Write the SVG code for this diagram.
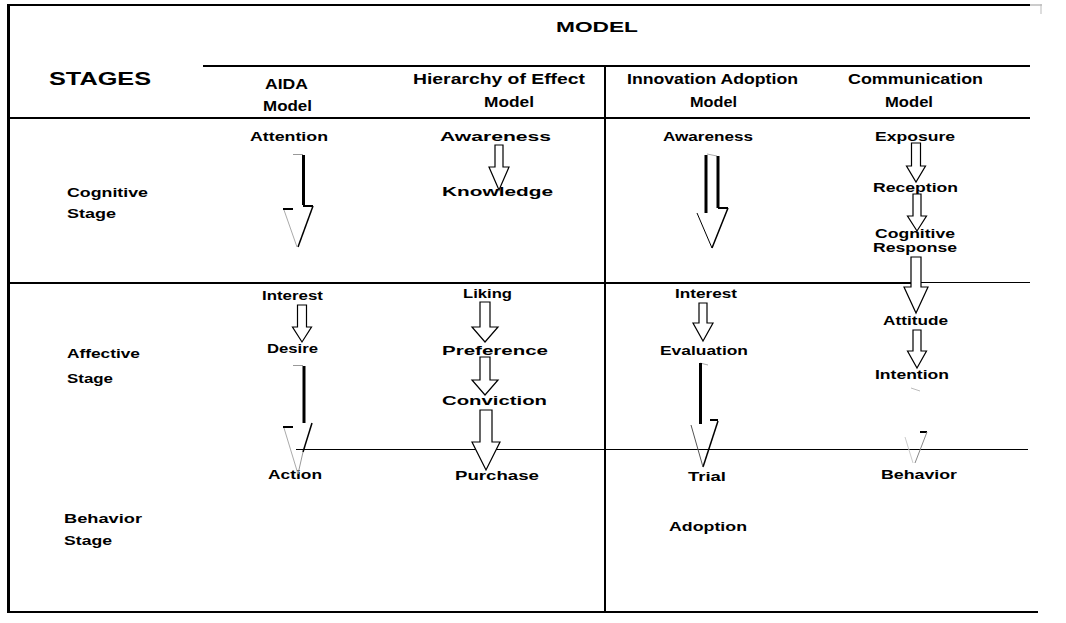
<svg xmlns="http://www.w3.org/2000/svg" width="1066" height="623" viewBox="0 0 1066 623">
<style>
text{font-family:"Liberation Sans",Arial,sans-serif;font-weight:bold;fill:#000}
.t{font-size:13.5px}
.h{font-size:14px}
.grid{stroke:#000;fill:none}
.ha{fill:#fff;stroke:#000;stroke-width:1.2;stroke-linejoin:miter}
.bk{stroke:#000;fill:none}
.gr{stroke:#999;fill:none;stroke-width:1}
</style>
<rect width="1066" height="623" fill="#fff"/>
<g id="table">
  <line class="grid" x1="8" y1="5" x2="1030" y2="5" stroke-width="2"/>
  <line x1="1030" y1="5" x2="1042" y2="5" stroke="#999" stroke-width="1"/>
  <line x1="1041" y1="4" x2="1041" y2="14" stroke="#bbb" stroke-width="1"/>
  <line class="grid" x1="8.5" y1="4" x2="8.5" y2="613" stroke-width="3"/>
  <line class="grid" x1="203" y1="66" x2="1030" y2="66" stroke-width="2"/>
  <line class="grid" x1="8" y1="118" x2="1030" y2="118" stroke-width="2"/>
  <line class="grid" x1="605" y1="66" x2="605" y2="612" stroke-width="2"/>
  <line class="grid" x1="8" y1="283" x2="912" y2="283" stroke-width="2"/>
  <line class="grid" x1="918" y1="282.5" x2="1030" y2="282.5" stroke-width="1" stroke="#333"/>
  <line class="grid" x1="296" y1="449.5" x2="1028" y2="449.5" stroke-width="1" stroke="#333"/>
  <line class="grid" x1="8" y1="612" x2="1038" y2="612" stroke-width="2"/>
</g>
<g id="headers">
  <text id="model" x="556" y="32" style="font-size:15px" textLength="82" lengthAdjust="spacingAndGlyphs">MODEL</text>
  <text id="stages" x="49" y="85" style="font-size:18px" textLength="102" lengthAdjust="spacingAndGlyphs">STAGES</text>
  <text class="h" x="265" y="89" textLength="43" lengthAdjust="spacingAndGlyphs">AIDA</text>
  <text class="h" x="263" y="111" textLength="49" lengthAdjust="spacingAndGlyphs">Model</text>
  <text class="h" x="413" y="84" textLength="172" lengthAdjust="spacingAndGlyphs">Hierarchy of Effect</text>
  <text class="h" x="484" y="107" textLength="50" lengthAdjust="spacingAndGlyphs">Model</text>
  <text class="h" x="627" y="84" textLength="171" lengthAdjust="spacingAndGlyphs">Innovation Adoption</text>
  <text class="h" x="690" y="107" textLength="47" lengthAdjust="spacingAndGlyphs">Model</text>
  <text class="h" x="848" y="84" textLength="135" lengthAdjust="spacingAndGlyphs">Communication</text>
  <text class="h" x="885" y="107" textLength="48" lengthAdjust="spacingAndGlyphs">Model</text>
</g>
<g id="stage-labels">
  <text class="t" x="67" y="197" textLength="81" lengthAdjust="spacingAndGlyphs">Cognitive</text>
  <text class="t" x="67" y="218" textLength="49" lengthAdjust="spacingAndGlyphs">Stage</text>
  <text class="t" x="67" y="358" textLength="73" lengthAdjust="spacingAndGlyphs">Affective</text>
  <text class="t" x="67" y="383" textLength="46" lengthAdjust="spacingAndGlyphs">Stage</text>
  <text class="t" x="64" y="523" textLength="78" lengthAdjust="spacingAndGlyphs">Behavior</text>
  <text class="t" x="64" y="545" textLength="48" lengthAdjust="spacingAndGlyphs">Stage</text>
</g>
<g id="aida">
  <text id="attention" class="t" x="250" y="141" textLength="78" lengthAdjust="spacingAndGlyphs">Attention</text>
  <text id="interest-a" class="t" x="262" y="300" textLength="61" lengthAdjust="spacingAndGlyphs">Interest</text>
  <text id="desire" class="t" x="267" y="353" textLength="51" lengthAdjust="spacingAndGlyphs">Desire</text>
  <text id="action" class="t" x="268" y="479" textLength="54" lengthAdjust="spacingAndGlyphs">Action</text>
</g>
<g id="hierarchy">
  <text id="awareness-h" class="t" x="440" y="141" textLength="111" lengthAdjust="spacingAndGlyphs">Awareness</text>
  <text id="knowledge" class="t" x="442" y="196" textLength="111" lengthAdjust="spacingAndGlyphs">Knowledge</text>
  <text id="liking" class="t" x="463" y="298" textLength="49" lengthAdjust="spacingAndGlyphs">Liking</text>
  <text id="preference" class="t" x="442" y="355" textLength="106" lengthAdjust="spacingAndGlyphs">Preference</text>
  <text id="conviction" class="t" x="442" y="405" textLength="105" lengthAdjust="spacingAndGlyphs">Conviction</text>
  <text id="purchase" class="t" x="455" y="480" textLength="84" lengthAdjust="spacingAndGlyphs">Purchase</text>
</g>
<g id="innovation">
  <text id="awareness-i" class="t" x="663" y="141" textLength="90" lengthAdjust="spacingAndGlyphs">Awareness</text>
  <text id="interest-i" class="t" x="675" y="298" textLength="62" lengthAdjust="spacingAndGlyphs">Interest</text>
  <text id="evaluation" class="t" x="660" y="355" textLength="88" lengthAdjust="spacingAndGlyphs">Evaluation</text>
  <text id="trial" class="t" x="688" y="481" textLength="38" lengthAdjust="spacingAndGlyphs">Trial</text>
  <text id="adoption" class="t" x="669" y="531" textLength="78" lengthAdjust="spacingAndGlyphs">Adoption</text>
</g>
<g id="communication">
  <text id="exposure" class="t" x="875" y="141" textLength="80" lengthAdjust="spacingAndGlyphs">Exposure</text>
  <text id="reception" class="t" x="873" y="192" textLength="85" lengthAdjust="spacingAndGlyphs">Reception</text>
  <text id="cognitive" class="t" x="875" y="238" textLength="80" lengthAdjust="spacingAndGlyphs">Cognitive</text>
  <text id="response" class="t" x="873" y="252" textLength="84" lengthAdjust="spacingAndGlyphs">Response</text>
  <text id="attitude" class="t" x="883" y="325" textLength="65" lengthAdjust="spacingAndGlyphs">Attitude</text>
  <text id="intention" class="t" x="875" y="379" textLength="74" lengthAdjust="spacingAndGlyphs">Intention</text>
  <text id="behavior" class="t" x="881" y="479" textLength="76" lengthAdjust="spacingAndGlyphs">Behavior</text>
</g>
<g id="connectors">
  <path class="ha" d="M495,145 L503,145 L503,167 L509,167 L499,190 L489,167 L495,167 Z"/>
  <path class="ha" d="M297.5,305 L306.5,305 L306.5,327 L311.5,327 L302,342 L292.5,327 L297.5,327 Z"/>
  <path class="ha" d="M480,302 L490,302 L490,327 L498,327 L485,342 L472,327 L480,327 Z"/>
  <path class="ha" d="M480,357 L490,357 L490,380 L498,380 L485,395 L472,380 L480,380 Z"/>
  <path class="ha" d="M480,410 L492,410 L492,442 L500,442 L486,470 L472,442 L480,442 Z"/>
  <path class="ha" d="M699,303 L707,303 L707,323 L713,323 L703,341 L693,323 L699,323 Z"/>
  <path class="ha" d="M911.5,143 L920.5,143 L920.5,166 L925.5,166 L916,182 L906.5,166 L911.5,166 Z"/>
  <path class="ha" d="M913,194 L921,194 L921,216 L926.5,216 L917,231 L907.5,216 L913,216 Z"/>
  <path class="ha" d="M911,257 L921,257 L921,287 L928,287 L916,313 L904,287 L911,287 Z"/>
  <path class="ha" d="M913,330 L921,330 L921,351 L926.5,351 L917,368 L907.5,351 L913,351 Z"/>
  <path class="gr" d="M293,154.5 H303"/>
  <path class="bk" d="M303.5,155 V205" stroke-width="3"/>
  <path class="bk" d="M303,206 H313" stroke-width="2"/>
  <path class="bk" d="M313,206 L298,247" stroke-width="1.5"/>
  <path class="bk" d="M283,209 H293" stroke-width="2"/>
  <path d="M284,210 L297,247" stroke="#aaa" stroke-width="1" fill="none"/>
  <path class="gr" d="M293,365.5 H303"/>
  <path class="bk" d="M304,366 V423" stroke-width="3"/>
  <path class="bk" d="M283,427 H293" stroke-width="2"/>
  <path class="bk" d="M312,423 L303,452" stroke-width="1.5"/>
  <path d="M303,452 L298,474" stroke="#999" stroke-width="1" fill="none"/>
  <path d="M284,428 L298,474" stroke="#aaa" stroke-width="1" fill="none"/>
  <path class="bk" d="M706,155 V213" stroke-width="3"/>
  <path d="M707,154 L717,156" stroke="#aaa" stroke-width="1" fill="none"/>
  <path class="bk" d="M718,156 V208" stroke-width="3"/>
  <path class="bk" d="M718,208 H728" stroke-width="2"/>
  <path class="bk" d="M728,208 L712,248" stroke-width="1.5"/>
  <path class="bk" d="M697,213 L712,248" stroke-width="1"/>
  <path d="M700,363 L708,365" stroke="#aaa" stroke-width="1" fill="none"/>
  <path class="bk" d="M700.5,363 V424" stroke-width="3"/>
  <path class="bk" d="M710,420 H718" stroke-width="2"/>
  <path class="bk" d="M718,421 L703,467" stroke-width="1.5"/>
  <path d="M691,425 L703,467" stroke="#555" stroke-width="1" fill="none"/>
  <path d="M911,388 L920,391" stroke="#bbb" stroke-width="1" fill="none"/>
  <path class="bk" d="M920,432 H927" stroke-width="2"/>
  <path d="M927,432 L915,463" stroke="#888" stroke-width="1" fill="none"/>
  <path d="M905,437 L913,463" stroke="#ccc" stroke-width="1" fill="none"/>
</g>
</svg>
